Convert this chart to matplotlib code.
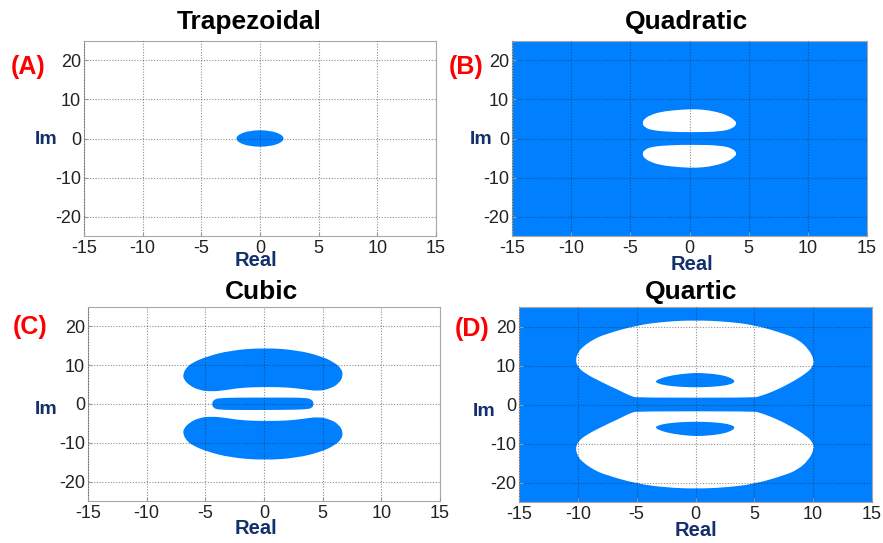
import matplotlib.pyplot as plt
from matplotlib.patches import Ellipse, PathPatch
from matplotlib.path import Path

plt.rcParams['font.family'] = ['Liberation Sans', 'DejaVu Sans']
plt.rcParams['axes.unicode_minus'] = False

BLUE = '#0080ff'
NAVY = '#13306a'

# axis ticks (same on all four panels)
xticks = [-15, -10, -5, 0, 5, 10, 15]
yticks = [-20, -10, 0, 10, 20]

# (A) trapezoidal: one small ellipse round the origin
trap_center = (0, 0)
trap_width = 4.0
trap_height = 4.2

# (B) quadratic: upper white hole (lower one is its mirror)
quad_x = [-4.0, -3.8, -3.06, -2.4, -1.65, 0.04, 1.2, 2.0, 2.8, 3.4, 3.8, 4.0,
          3.7, 2.6, 0.3, -1.65, -3.2, -3.8]
quad_y = [3.9, 5.2, 6.3, 6.8, 7.15, 7.55, 7.4, 7.0, 6.4, 5.6, 4.7, 3.9,
          2.6, 1.75, 1.6, 1.7, 2.1, 2.9]

# (C) cubic: upper blue lobe (lower one is its mirror) and the middle bar
cub_x = [-6.9, -6.6, -6.0, -4.9, -2.9, 0, 2.8, 4.9, 6.0, 6.6, 6.75, 6.4, 5.6,
         4.6, 3.4, 2.0, 0, -2.0, -3.4, -4.5, -5.6, -6.4, -6.85]
cub_y = [7.7, 9.5, 10.8, 12.2, 13.8, 14.5, 13.9, 12.3, 10.7, 9.1, 7.3, 5.3, 3.9,
         3.3, 3.8, 4.3, 4.4, 4.2, 3.5, 3.2, 3.6, 4.9, 6.4]
bar_x = [-4.45, -4.3, -3.8, -2.0, 0, 2.0, 3.5, 4.1, 4.25, 4.1, 3.5, 2.0, 0, -2.0,
         -3.8, -4.3]
bar_y = [0, 1.1, 1.55, 1.65, 1.65, 1.65, 1.6, 1.2, 0, -1.1, -1.4, -1.5, -1.55,
         -1.55, -1.5, -1.1]

# (D) quartic: upper white hole and the blue island inside it (mirrored below)
quar_x = [-10.2, -10.0, -9.7, -8.7, -7.6, -5.0, -2.5, 0, 2.5, 5.0, 7.6, 8.7,
          9.6, 10.1, 9.95, 9.4, 8.3, 6.9, 5.4, 4.8, -4.8, -5.4, -6.4, -8.1, -9.4,
          -10.0]
quar_y = [11.4, 13.2, 14.5, 16.7, 18.1, 20.3, 21.3, 21.6, 21.3, 20.4, 18.1, 16.7,
          14.3, 11.4, 9.6, 8.0, 5.9, 3.7, 2.0, 1.75, 1.75, 2.0, 3.5, 5.9, 8.0,
          9.6]
isl_x = [-3.45, -3.0, -2.0, -0.5, 0.5, 2.0, 3.0, 3.4, 3.0, 2.0, 0.5, -1.0, -2.5,
         -3.2]
isl_y = [5.9, 6.7, 7.5, 8.05, 8.1, 7.7, 6.9, 5.9, 5.15, 4.65, 4.4, 4.45, 4.85,
         5.4]

W, H = 883, 543
fig = plt.figure(figsize=(W / 100, H / 100), dpi=100)


def make_ax(x0, y0, x1, y1, bg):
    ax = fig.add_axes([x0 / W, 1 - y1 / H, (x1 - x0) / W, (y1 - y0) / H])
    ax.set_facecolor(bg)
    ax.set_xlim(-15, 15)
    ax.set_ylim(-25, 25)
    ax.set_xticks(xticks)
    ax.set_yticks(yticks)
    ax.tick_params(direction='in', length=3, pad=2, labelsize=13,
                   colors='#999999', labelcolor='#222222')
    ax.tick_params(axis='x', pad=3)
    for s in ax.spines.values():
        s.set_color('#a8a8a8')
    ax.set_axisbelow(False)
    ax.grid(True, color='#222222', alpha=0.5, lw=0.8, linestyle=(0, (1, 1.5)))
    return ax


def mirror(ys):
    return [-v for v in ys]


def blob(ax, xs, ys, color):
    # closed outline, rounded: each listed point is a quadratic control point
    pts = list(zip(xs, ys))
    n = len(pts)
    mids = [((pts[i][0] + pts[(i + 1) % n][0]) / 2,
             (pts[i][1] + pts[(i + 1) % n][1]) / 2) for i in range(n)]
    verts = [mids[-1]]
    codes = [Path.MOVETO]
    for i in range(n):
        verts += [pts[i], mids[i]]
        codes += [Path.CURVE3, Path.CURVE3]
    verts.append(mids[-1])
    codes.append(Path.CLOSEPOLY)
    ax.add_patch(PathPatch(Path(verts, codes), fc=color, ec='none', zorder=1))


axA = make_ax(84, 41, 436, 236, 'white')
axA.add_patch(Ellipse(trap_center, trap_width, trap_height, fc=BLUE, ec='none',
                      zorder=1))

axB = make_ax(512, 41, 867, 236, BLUE)
blob(axB, quad_x, quad_y, 'white')
blob(axB, quad_x, mirror(quad_y), 'white')

axC = make_ax(88, 307, 440, 501, 'white')
blob(axC, cub_x, cub_y, BLUE)
blob(axC, cub_x, mirror(cub_y), BLUE)
blob(axC, bar_x, bar_y, BLUE)

axD = make_ax(519, 307, 872, 502, BLUE)
blob(axD, quar_x, quar_y, 'white')
blob(axD, quar_x, mirror(quar_y), 'white')
blob(axD, isl_x, isl_y, BLUE)
blob(axD, isl_x, mirror(isl_y), BLUE)


def label(x, y, s, **kw):
    fig.text(x / W, 1 - y / H, s, ha='center', va='center',
             fontweight='bold', **kw)


titles = [(249, 22, 'Trapezoidal'), (687, 22, 'Quadratic'),
          (262, 292, 'Cubic'), (691, 292, 'Quartic')]
for x, y, s in titles:
    label(x, y, s, fontsize=19, color='black')

tags = [(28, 67, '(A)'), (466, 67, '(B)'), (30, 327, '(C)'), (472, 329, '(D)')]
for x, y, s in tags:
    label(x, y, s, fontsize=18, color='red')

for x, y in [(46, 139), (481, 139), (46, 410), (484, 411)]:
    label(x, y, 'Im', fontsize=14, color=NAVY)
for x, y in [(256, 260), (692, 264), (256, 528), (696, 531)]:
    label(x, y, 'Real', fontsize=14.5, color=NAVY)

fig.savefig('out.png', dpi=100)
